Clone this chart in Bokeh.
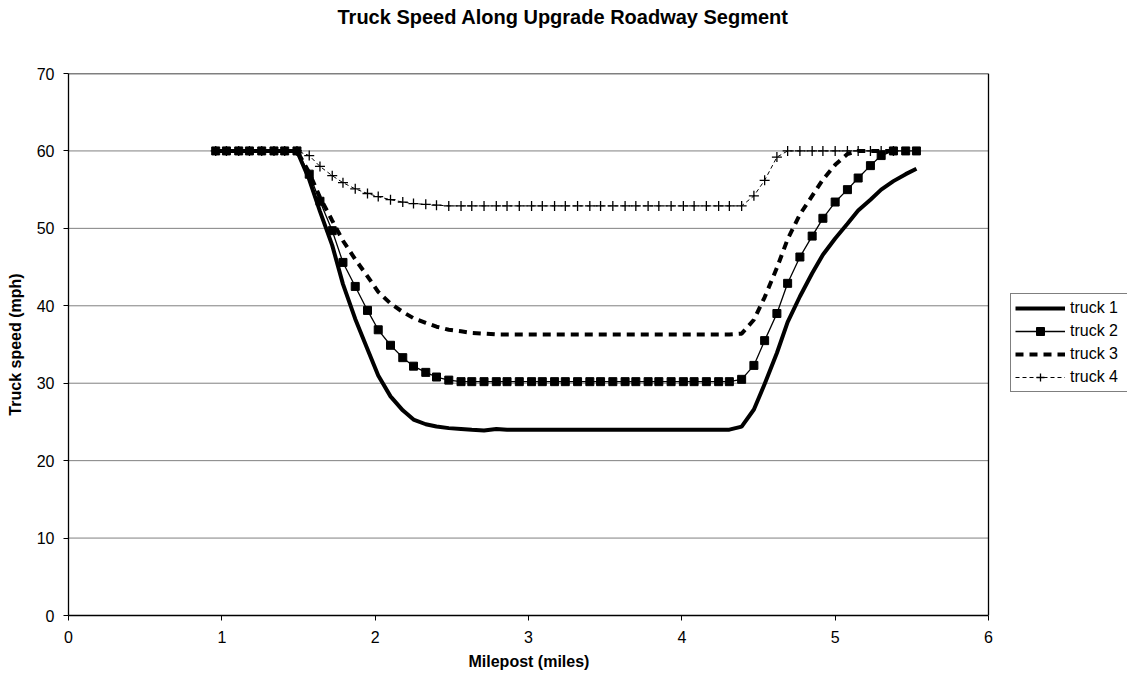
from bokeh.plotting import figure
from bokeh.models import Range1d, Legend, LegendItem, FixedTicker, Title
from bokeh.embed import file_html
from bokeh.resources import INLINE

# ---- data ----
milepost = [0.96, 1.03, 1.11, 1.18, 1.26, 1.34, 1.41, 1.49, 1.57, 1.64,
            1.72, 1.79, 1.87, 1.95, 2.02, 2.10, 2.18, 2.25, 2.33, 2.40,
            2.48, 2.56, 2.63, 2.71, 2.79, 2.86, 2.94, 3.02, 3.09, 3.17,
            3.24, 3.32, 3.40, 3.47, 3.55, 3.63, 3.70, 3.78, 3.85, 3.93,
            4.01, 4.08, 4.16, 4.24, 4.31, 4.39, 4.47, 4.54, 4.62, 4.69,
            4.77, 4.85, 4.92, 5.00, 5.08, 5.15, 5.23, 5.30, 5.38, 5.46,
            5.53]

truck1 = [60, 60, 60, 60, 60, 60, 60, 60,
          56.3, 52.2, 47.8, 42.8, 38.3, 34.4, 31.0, 28.3, 26.5, 25.3, 24.7, 24.4,
          24.2, 24.1, 24.0, 23.9, 24.1,
          24.0, 24.0, 24.0, 24.0, 24.0, 24.0, 24.0, 24.0, 24.0, 24.0,
          24.0, 24.0, 24.0, 24.0, 24.0, 24.0, 24.0, 24.0, 24.0, 24.0,
          24.4, 26.6, 29.9, 33.9, 37.9, 41.2, 44.2, 46.6, 48.7, 50.6,
          52.3, 53.7, 55.0, 56.1, 57.0, 57.7]

truck2 = [60, 60, 60, 60, 60, 60, 60, 60,
          57.0, 53.5, 49.7, 45.6, 42.5, 39.4, 36.9, 34.9, 33.3, 32.2, 31.4, 30.8,
          30.4, 30.2,
          30.2, 30.2, 30.2, 30.2, 30.2, 30.2, 30.2, 30.2, 30.2, 30.2, 30.2, 30.2,
          30.2, 30.2, 30.2, 30.2, 30.2, 30.2, 30.2, 30.2, 30.2, 30.2, 30.2,
          30.5, 32.3, 35.5, 39.0, 42.9, 46.3, 49.0, 51.3, 53.4, 55.0,
          56.5, 58.1, 59.4, 60, 60, 60]

truck3 = [60, 60, 60, 60, 60, 60, 60, 60,
          57.2, 54.0, 51.0, 48.4, 46.0, 43.8, 41.8, 40.3, 39.2, 38.4, 37.8, 37.3,
          36.9, 36.7, 36.5, 36.4,
          36.3, 36.3, 36.3, 36.3, 36.3, 36.3, 36.3, 36.3, 36.3, 36.3, 36.3,
          36.3, 36.3, 36.3, 36.3, 36.3, 36.3, 36.3, 36.3, 36.3, 36.3,
          36.4, 38.2, 41.1, 44.9, 48.6, 51.8, 54.2, 56.3, 58.2, 59.6,
          60, 60, 60, 60]

truck4 = [60, 60, 60, 60, 60, 60, 60, 60,
          59.4, 58.0, 56.8, 55.9, 55.1, 54.5, 54.1, 53.7, 53.4, 53.2, 53.1, 53.0,
          52.9, 52.9, 52.9, 52.9, 52.9, 52.9, 52.9, 52.9, 52.9, 52.9, 52.9, 52.9,
          52.9, 52.9, 52.9, 52.9, 52.9, 52.9, 52.9, 52.9, 52.9, 52.9, 52.9, 52.9,
          52.9, 52.9,
          54.2, 56.2, 59.2,
          60, 60, 60, 60, 60, 60, 60, 60, 60, 60]

series_names = ["truck 1", "truck 2", "truck 3", "truck 4"]
x_ticks = [0, 1, 2, 3, 4, 5, 6]
y_ticks = [0, 10, 20, 30, 40, 50, 60, 70]
title_text = "Truck Speed Along Upgrade Roadway Segment"
x_label = "Milepost (miles)"
y_label = "Truck speed (mph)"

FONT = "Liberation Sans"

# ---- layout (pixels) ----
W, H = 1127, 677
LEFT, TOP, BOTTOM = 68, 73, 62
PLOT_W = 920                     # width of the boxed plot area (x 0..6)
FRAME_W = W - LEFT               # frame runs to the right edge so the legend fits
x_lo, x_hi = x_ticks[0], x_ticks[-1]
y_lo, y_hi = y_ticks[0], y_ticks[-1]
x_end = x_lo + (x_hi - x_lo) * FRAME_W / PLOT_W

p = figure(width=W, height=H,
           x_range=Range1d(x_lo, x_end), y_range=Range1d(y_lo, y_hi),
           output_backend="svg", toolbar_location=None,
           min_border_left=LEFT, min_border_right=0,
           min_border_top=TOP, min_border_bottom=BOTTOM)

# title: spacer nearest the frame, then the title text above it
p.add_layout(Title(text=" ", text_font_size="1px", standoff=43), "above")
p.add_layout(Title(text=title_text, align="left", offset=269, standoff=0,
                   text_font=FONT, text_font_size="20px",
                   text_font_style="bold", text_color="black"), "above")

p.outline_line_color = None
p.background_fill_color = "white"
p.border_fill_color = "white"
p.xgrid.visible = False
p.ygrid.visible = False

# horizontal gridlines and the plot-area box (only over x 0..6)
grid_y = y_ticks[1:-1]
p.segment(x0=[x_lo] * len(grid_y), y0=grid_y, x1=[x_hi] * len(grid_y), y1=grid_y,
          line_color="#808080", line_width=1)
p.segment(x0=[x_lo, x_hi], y0=[y_hi, y_lo], x1=[x_hi, x_hi], y1=[y_hi, y_hi],
          line_color="black", line_width=1.3)

for ax in (p.xaxis, p.yaxis):
    ax.axis_line_color = "black"
    ax.axis_line_width = 1.3
    ax.major_tick_line_color = "black"
    ax.major_tick_in = 0
    ax.major_tick_out = 5
    ax.minor_tick_line_color = None
    ax.major_label_text_font = FONT
    ax.major_label_text_font_size = "16px"
    ax.major_label_text_color = "black"
    ax.axis_label_text_font = FONT
    ax.axis_label_text_font_size = "16px"
    ax.axis_label_text_font_style = "bold"
    ax.axis_label_text_color = "black"

p.xaxis.ticker = FixedTicker(ticks=x_ticks)
p.xaxis.bounds = (x_lo, x_hi)
p.yaxis.ticker = FixedTicker(ticks=y_ticks)
p.yaxis.axis_label = y_label
p.xaxis.major_label_standoff = 10
p.yaxis.major_label_standoff = 9
p.yaxis.axis_label_standoff = 10

# x-axis title, centred under the boxed plot area
p.add_layout(Title(text=x_label, align="left", offset=400, standoff=10,
                   text_font=FONT, text_font_size="16px",
                   text_font_style="bold", text_color="black"), "below")

r1 = p.line(milepost[:len(truck1)], truck1, line_color="black", line_width=4)
r2l = p.line(milepost[:len(truck2)], truck2, line_color="black", line_width=1.3)
r2m = p.scatter(milepost[:len(truck2)], truck2, marker="square", size=8,
                fill_color="black", line_color="black")
r3 = p.line(milepost[:len(truck3)], truck3, line_color="black", line_width=4,
            line_dash="8 6")
r4l = p.line(milepost[:len(truck4)], truck4, line_color="black", line_width=1,
             line_dash="4 3")
r4m = p.scatter(milepost[:len(truck4)], truck4, marker="cross", size=10,
                line_color="black", line_width=1.3)

legend = Legend(items=[
    LegendItem(label=series_names[0], renderers=[r1]),
    LegendItem(label=series_names[1], renderers=[r2l, r2m]),
    LegendItem(label=series_names[2], renderers=[r3]),
    LegendItem(label=series_names[3], renderers=[r4l, r4m]),
], location=(942, 223))
legend.border_line_color = "black"
legend.border_line_width = 1
legend.background_fill_color = "white"
legend.background_fill_alpha = 1
legend.label_text_font = FONT
legend.label_text_font_size = "16px"
legend.label_text_color = "black"
legend.glyph_width = 50
legend.glyph_height = 20
legend.label_height = 20
legend.label_width = 62
legend.spacing = 3
legend.padding = 4
legend.margin = 0
legend.label_standoff = 5
p.add_layout(legend, "center")

open("out.html", "w").write(file_html(p, INLINE))
